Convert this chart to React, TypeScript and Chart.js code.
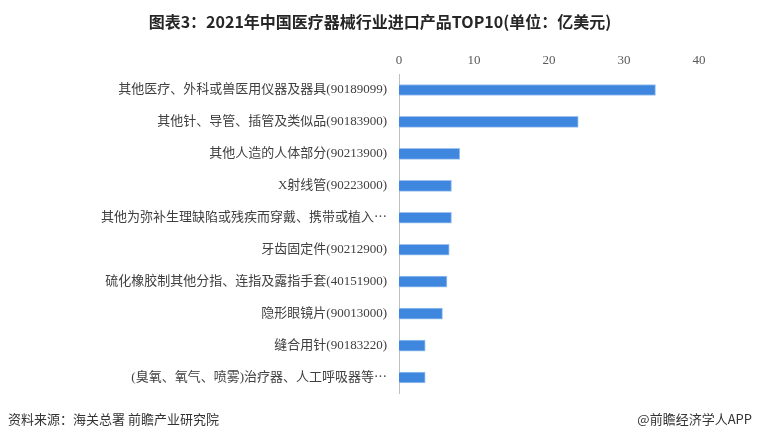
import React, { useEffect, useRef } from "react";
import { Chart, registerables } from "chart.js";

Chart.register(...registerables);

const TITLE = "图表3：2021年中国医疗器械行业进口产品TOP10(单位：亿美元)";
const SOURCE = "资料来源：海关总署 前瞻产业研究院";
const CREDIT = "@前瞻经济学人APP";

const categories = [
  "其他医疗、外科或兽医用仪器及器具(90189099)",
  "其他针、导管、插管及类似品(90183900)",
  "其他人造的人体部分(90213900)",
  "X射线管(90223000)",
  "其他为弥补生理缺陷或残疾而穿戴、携带或植入⋯",
  "牙齿固定件(90212900)",
  "硫化橡胶制其他分指、连指及露指手套(40151900)",
  "隐形眼镜片(90013000)",
  "缝合用针(90183220)",
  "(臭氧、氧气、喷雾)治疗器、人工呼吸器等⋯",
];

const values = [34.2, 23.9, 8.1, 7.0, 7.0, 6.7, 6.4, 5.8, 3.5, 3.5];

const xTicks = [0, 10, 20, 30, 40];

const textPlugin = {
  id: "textPlugin",
  afterDraw(chart: any) {
    const ctx = chart.ctx;
    ctx.save();
    ctx.fillStyle = "#262626";
    ctx.font = "bold 16px 'Noto Sans CJK SC', sans-serif";
    ctx.textAlign = "center";
    ctx.textBaseline = "middle";
    ctx.fillText(TITLE, 380, 22);
    ctx.fillStyle = "#333333";
    ctx.font = "13px 'Noto Sans CJK SC', sans-serif";
    ctx.textAlign = "left";
    ctx.fillText(SOURCE, 8, 419);
    ctx.textAlign = "right";
    ctx.fillText(CREDIT, 752, 419);
    ctx.restore();
  },
};

export default function App() {
  const ref = useRef<HTMLCanvasElement>(null);
  useEffect(() => {
    document.body.style.margin = "0";
    const chart = new Chart(ref.current as HTMLCanvasElement, {
      type: "bar",
      data: {
        labels: categories,
        datasets: [
          {
            data: values,
            backgroundColor: "#3F86DE",
            borderColor: "#9CC3F0",
            borderWidth: 1,
            barThickness: 11,
          },
        ],
      },
      options: {
        indexAxis: "y",
        animation: false,
        responsive: false,
        maintainAspectRatio: false,
        layout: { padding: { top: 48, bottom: 46.5, left: 0, right: 61 } },
        plugins: {
          legend: { display: false },
          title: { display: false },
          tooltip: { enabled: false },
        },
        scales: {
          x: {
            position: "top",
            min: 0,
            max: 40,
            afterBuildTicks: (s: any) => {
              s.ticks = xTicks.map((v) => ({ value: v }));
            },
            afterFit: (s: any) => {
              s.height = 26;
            },
            grid: { display: false, drawTicks: false },
            border: { display: false },
            ticks: {
              padding: 6,
              color: "#595959",
              font: { family: "'Liberation Serif', serif", size: 13 },
            },
          },
          y: {
            afterFit: (s: any) => {
              s.width = 399;
            },
            grid: { display: false, drawTicks: false },
            border: { display: true, color: "#BFBFBF", width: 1 },
            ticks: {
              padding: 12,
              color: "#404040",
              autoSkip: false,
              font: {
                family: "'Liberation Serif', 'Noto Sans CJK SC', serif",
                size: 13,
              },
            },
          },
        },
      },
      plugins: [textPlugin],
    });
    return () => chart.destroy();
  }, []);
  return (
    <div style={{ position: "fixed", left: 0, top: 0, width: 760, height: 440, background: "#fff" }}>
      <canvas ref={ref} width={760} height={440} style={{ width: 760, height: 440 }} />
    </div>
  );
}
